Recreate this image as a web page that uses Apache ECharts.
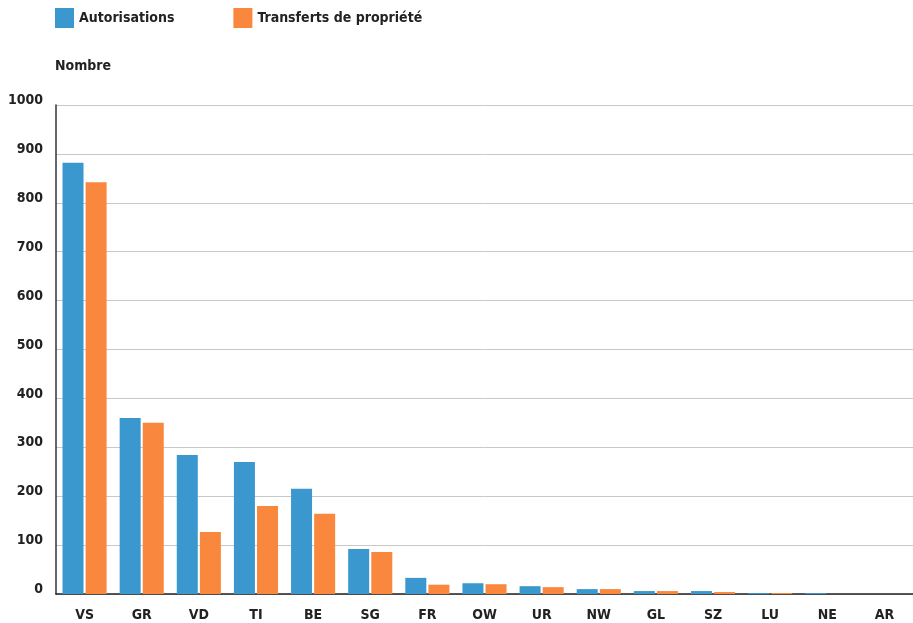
<!DOCTYPE html>
<html>
<head>
<meta charset="utf-8">
<script src="https://cdn.jsdelivr.net/npm/echarts@6/dist/echarts.min.js"></script>
<style>
  html, body { margin: 0; padding: 0; background: #fff; }
  #chart { width: 913px; height: 623px; }
</style>
</head>
<body>
<div id="chart"></div>
<script>
const cantons = ['VS', 'GR', 'VD', 'TI', 'BE', 'SG', 'FR', 'OW', 'UR', 'NW', 'GL', 'SZ', 'LU', 'NE', 'AR']
const autorisations = [882, 360, 284, 270, 215, 92, 33, 22, 16, 10, 6, 6, 2, 2, 0]
const transferts = [842, 350, 127, 180, 164, 86, 19, 20, 14, 10, 6, 4, 2, 0, 0]

const font = '"DejaVu Sans Condensed", sans-serif'
const chart = echarts.init(document.getElementById('chart'))

chart.setOption({
  animation: false,
  textStyle: { fontFamily: font },
  legend: {
    left: 50,
    top: 3,
    itemWidth: 19,
    itemHeight: 20,
    itemGap: 59,
    icon: 'rect',
    textStyle: { fontFamily: font, fontWeight: 'bold', fontSize: 14, color: '#222' },
    data: ['Autorisations', 'Transferts de propriété']
  },
  title: {
    text: 'Nombre',
    left: 50,
    top: 54,
    textStyle: { fontFamily: font, fontWeight: 'bold', fontSize: 14, color: '#222' }
  },
  grid: { left: 56, right: -8, top: 105, bottom: 29 },
  xAxis: {
    type: 'category',
    data: cantons,
    axisLine: { lineStyle: { color: '#222', width: 1.5 } },
    axisTick: { show: false },
    axisLabel: { fontFamily: font, fontWeight: 'bold', fontSize: 14, color: '#222', margin: 14 }
  },
  yAxis: {
    type: 'value',
    min: 0,
    max: 1000,
    interval: 100,
    axisLine: { show: true, lineStyle: { color: '#333', width: 1.5 } },
    axisTick: { show: false },
    splitLine: { lineStyle: { color: '#c8c8c8', width: 1 } },
    axisLabel: {
      fontFamily: font, fontWeight: 'bold', fontSize: 14, color: '#222',
      margin: 13, verticalAlign: 'bottom', lineHeight: 9,
      formatter: v => String(v)
    }
  },
  series: [
    {
      name: 'Autorisations',
      type: 'bar',
      data: autorisations,
      barWidth: 21,
      barGap: '10%',
      itemStyle: { color: '#3a98cf' }
    },
    {
      name: 'Transferts de propriété',
      type: 'bar',
      data: transferts,
      barWidth: 21,
      itemStyle: { color: '#f9873e' }
    }
  ]
})
</script>
</body>
</html>
